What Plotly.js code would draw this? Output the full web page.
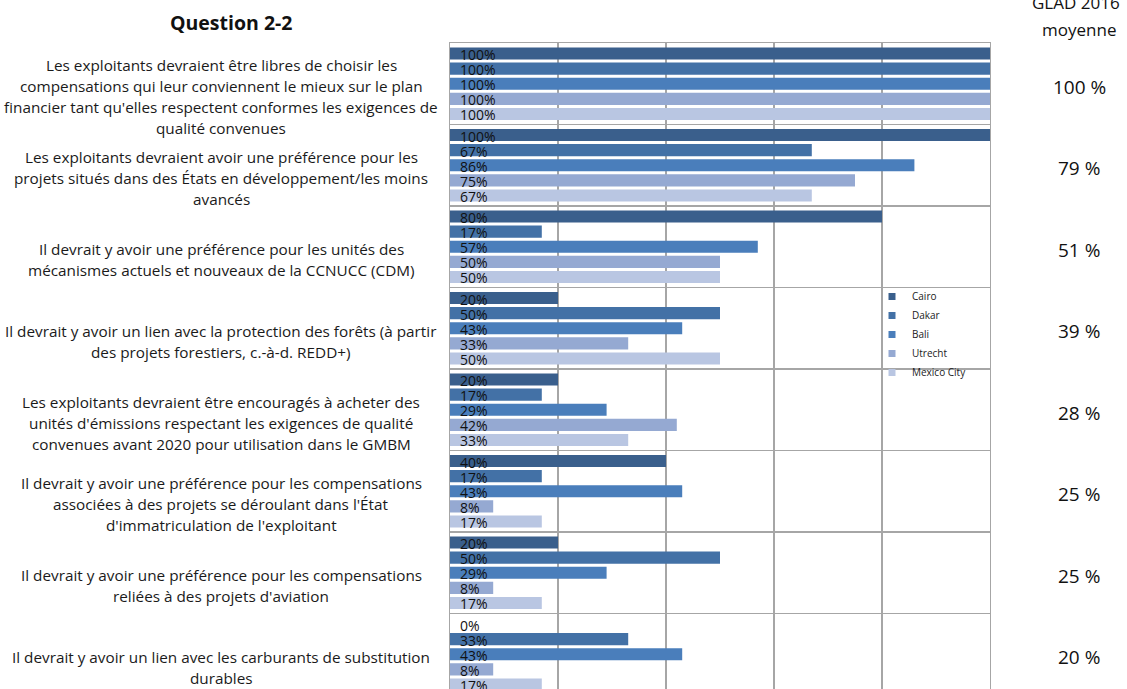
<!DOCTYPE html>
<html>
<head>
<meta charset="utf-8">
<script src="https://cdn.plot.ly/plotly-3.0.1.min.js"></script>
<style>html,body{margin:0;padding:0;background:#fff;}#chart{width:1127px;height:689px;}</style>
</head>
<body>
<div id="chart"></div>
<script>
// ---- data ----
const categoryLines = [
  ["Les exploitants devraient être libres de choisir les", "compensations qui leur conviennent le mieux sur le plan", "financier tant qu'elles respectent conformes les exigences de", "qualité convenues"],
  ["Les exploitants devraient avoir une préférence pour les", "projets situés dans des États en développement/les moins", "avancés"],
  ["Il devrait y avoir une préférence pour les unités des", "mécanismes actuels et nouveaux de la CCNUCC (CDM)"],
  ["Il devrait y avoir un lien avec la protection des forêts (à partir", "des projets forestiers, c.-à-d. REDD+)"],
  ["Les exploitants devraient être encouragés à acheter des", "unités d'émissions respectant les exigences de qualité", "convenues avant 2020 pour utilisation dans le GMBM"],
  ["Il devrait y avoir une préférence pour les compensations", "associées à des projets se déroulant dans l'État", "d'immatriculation de l'exploitant"],
  ["Il devrait y avoir une préférence pour les compensations", "reliées à des projets d'aviation"],
  ["Il devrait y avoir un lien avec les carburants de substitution", "durables"]
];
const seriesNames = ["Cairo", "Dakar", "Bali", "Utrecht", "Mexico City"];
const cairo   = [100, 100, 80, 20, 20, 40, 20, 0];
const dakar   = [100, 67, 17, 50, 17, 17, 50, 33];
const bali    = [100, 86, 57, 43, 29, 43, 29, 43];
const utrecht = [100, 75, 50, 33, 42, 8, 8, 8];
const mexico  = [100, 67, 50, 50, 33, 17, 17, 17];
const averages = ["100 %", "79 %", "51 %", "39 %", "28 %", "25 %", "25 %", "20 %"];
const titleText = "Question 2-2";
const avgHeader1 = "GLAD 2016";
const avgHeader2 = "moyenne";

// ---- styling ----
const seriesValues = [cairo, dakar, bali, utrecht, mexico];
const colors = ["#3A5F8C", "#4371A6", "#4A7EBB", "#95A9D2", "#B9C6E2"];
const FONT = "Open Sans, Liberation Sans, sans-serif";
const gridColor = "#A6A6A6";
const bargap = 0.074;
const nSeries = seriesNames.length;
const slot = (1 - bargap) / nSeries;
const idx = categoryLines.map((_, i) => i);

const traces = [];
seriesValues.forEach((vals, k) => {
  traces.push({
    type: "bar", orientation: "h", name: seriesNames[k],
    x: vals, y: idx, marker: {color: colors[k]},
    showlegend: false, hoverinfo: "x+name"
  });
});
// legend proxies
seriesNames.forEach((n, k) => {
  traces.push({
    type: "scatter", mode: "markers", name: n, x: [null], y: [null],
    marker: {symbol: "square", size: 7, color: colors[k]}, showlegend: true
  });
});

const annotations = [];
// bar value labels
seriesValues.forEach((vals, k) => {
  vals.forEach((v, i) => {
    annotations.push({
      xref: "x", yref: "y", x: 0, y: i + (k - (nSeries - 1) / 2) * slot,
      text: v + "%", showarrow: false, xanchor: "left", yanchor: "middle",
      xshift: 8, yshift: -1, font: {family: FONT, size: 14, color: "#111"}
    });
  });
});
// category labels (left)
categoryLines.forEach((lines, i) => {
  lines.forEach((ln, j) => {
    annotations.push({
      xref: "paper", yref: "y", x: (221 - 450) / 540, y: i,
      text: ln, showarrow: false, xanchor: "center", yanchor: "middle",
      yshift: -(13 + (j - (lines.length - 1) / 2) * 21),
      font: {family: FONT, size: 15.3, color: "#1a1a1a"}
    });
  });
});
// averages (right)
averages.forEach((a, i) => {
  annotations.push({
    xref: "paper", yref: "y", x: (1079 - 450) / 540, y: i,
    text: a, showarrow: false, xanchor: "center", yanchor: "middle",
    yshift: -3, font: {family: FONT, size: 19, color: "#111"}
  });
});
// headers
annotations.push({xref: "paper", yref: "paper", x: (232 - 450) / 540, y: 1 + (43 - 22) / 646,
  text: "<b>" + titleText + "</b>", showarrow: false, xanchor: "center", yanchor: "middle",
  font: {family: FONT, size: 19.5, color: "#111"}});
annotations.push({xref: "paper", yref: "paper", x: (1076 - 450) / 540, y: 1 + (43 - 3) / 646,
  text: avgHeader1, showarrow: false, xanchor: "center", yanchor: "middle",
  font: {family: FONT, size: 17, color: "#111"}});
annotations.push({xref: "paper", yref: "paper", x: (1079 - 450) / 540, y: 1 + (43 - 30) / 646,
  text: avgHeader2, showarrow: false, xanchor: "center", yanchor: "middle",
  font: {family: FONT, size: 17, color: "#111"}});

const boundaries = [];
for (let i = 0; i <= categoryLines.length; i++) boundaries.push(i - 0.5);

const layout = {
  width: 1127, height: 689,
  margin: {l: 450, r: 137, t: 43, b: 0, autoexpand: false},
  paper_bgcolor: "#fff", plot_bgcolor: "#fff",
  barmode: "group", bargap: bargap, bargroupgap: 0.2,
  showlegend: true,
  legend: {x: (872 - 450) / 540, y: 1 - (282 - 43) / 646, xanchor: "left", yanchor: "top",
    bgcolor: "rgba(0,0,0,0)", font: {family: FONT, size: 10, color: "#222"},
    tracegroupgap: 0, itemwidth: 30},
  xaxis: {range: [0, 100], tickvals: [0, 20, 40, 60, 80, 100], showticklabels: false,
    ticks: "", showgrid: true, gridcolor: gridColor, gridwidth: 1.3, zeroline: false,
    showline: true, side: "top", linecolor: gridColor, linewidth: 1.3, fixedrange: true},
  yaxis: {range: [-0.5 + 646 / 81.5, -0.5], tickvals: boundaries, showticklabels: false,
    ticks: "", showgrid: true, gridcolor: gridColor, gridwidth: 1.3, zeroline: false,
    showline: true, mirror: true, linecolor: gridColor, linewidth: 1.3, fixedrange: true},
  annotations: annotations
};

Plotly.newPlot("chart", traces, layout, {displayModeBar: false, staticPlot: true});
</script>
</body>
</html>
